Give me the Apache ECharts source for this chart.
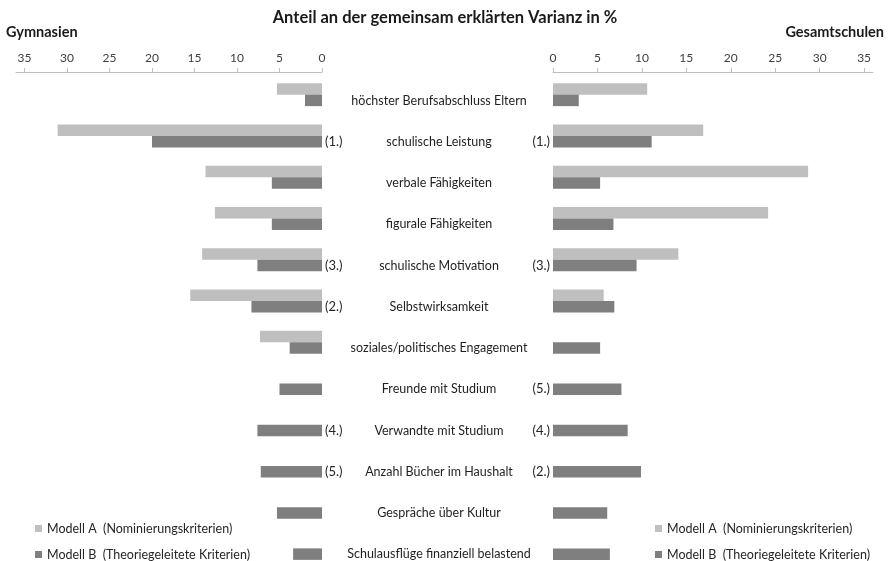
<!DOCTYPE html>
<html>
<head>
<meta charset="UTF-8">
<title>Anteil an der gemeinsam erklärten Varianz</title>
<script src="https://cdn.jsdelivr.net/npm/echarts@6/dist/echarts.min.js"></script>
<style>
  html, body { margin: 0; padding: 0; background: #fff; }
  #main { width: 890px; height: 561px; }
</style>
</head>
<body>
<div id="main"></div>
<script type="text/javascript">
    // Kategorien (von oben nach unten)
    var categories = [
        'höchster Berufsabschluss Eltern',
        'schulische Leistung',
        'verbale Fähigkeiten',
        'figurale Fähigkeiten',
        'schulische Motivation',
        'Selbstwirksamkeit',
        'soziales/politisches Engagement',
        'Freunde mit Studium',
        'Verwandte mit Studium',
        'Anzahl Bücher im Haushalt',
        'Gespräche über Kultur',
        'Schulausflüge finanziell belastend'
    ];
    // Gymnasien
    var gymA = [5.3, 31.1, 13.7, 12.6, 14.1, 15.5, 7.3, null, null, null, null, null];
    var gymB = [2.0, 20.0, 5.9, 5.9, 7.6, 8.3, 3.8, 5.0, 7.6, 7.2, 5.3, 3.4];
    var gymRank = ['', '(1.)', '', '', '(3.)', '(2.)', '', '', '(4.)', '(5.)', '', ''];
    // Gesamtschulen
    var gesA = [10.6, 16.9, 28.7, 24.2, 14.1, 5.7, null, null, null, null, null, null];
    var gesB = [2.9, 11.1, 5.3, 6.8, 9.4, 6.9, 5.3, 7.7, 8.4, 9.9, 6.1, 6.4];
    var gesRank = ['', '(1.)', '', '', '(3.)', '', '', '(5.)', '(4.)', '(2.)', '', ''];
    // Achsenbeschriftung
    var tickValues = [0, 5, 10, 15, 20, 25, 30, 35];

    var nameA = 'Modell A  (Nominierungskriterien)';
    var nameB = 'Modell B  (Theoriegeleitete Kriterien)';
    var colorA = '#bfbfbf';
    var colorB = '#7f7f7f';
    var font = 'Lato, "Open Sans", sans-serif';

    function valueAxis(gridIndex, inverse) {
        return {
            type: 'value',
            gridIndex: gridIndex,
            position: 'top',
            offset: 2,
            inverse: inverse,
            min: 0,
            max: 36,
            interval: 5,
            axisLine: { show: true, lineStyle: { color: '#bfbfbf', width: 1 } },
            axisTick: { show: true, length: 4, customValues: tickValues, lineStyle: { color: '#bfbfbf' } },
            axisLabel: { customValues: tickValues, margin: 8, color: '#404040', fontSize: 12, fontFamily: font },
            splitLine: { show: false }
        };
    }

    function catAxis(gridIndex, showLabel) {
        return {
            type: 'category',
            gridIndex: gridIndex,
            inverse: true,
            data: categories,
            axisLine: { show: false },
            axisTick: { show: false },
            axisLabel: showLabel ? {
                show: true, interval: 0, align: 'center', margin: 0,
                color: '#1f1f1f', fontSize: 12.5, fontFamily: font
            } : { show: false }
        };
    }

    function rankLabel(ranks, pos) {
        return {
            show: true,
            position: pos,
            distance: 3,
            color: '#262626',
            fontSize: 13,
            fontFamily: font,
            formatter: function (p) { return ranks[p.dataIndex]; }
        };
    }

    function legendItem(x, y, name) {
        return {
            orient: 'vertical', left: x, top: y,
            itemWidth: 7, itemHeight: 7, icon: 'rect', itemGap: 5,
            textStyle: { fontSize: 12.5, color: '#262626', fontFamily: font },
            data: [name]
        };
    }

    var myChart = echarts.init(document.getElementById('main'));
    var option = {
        animation: false,
        title: [
            { text: 'Anteil an der gemeinsam erklärten Varianz in %', left: 'center', top: 4,
              textStyle: { fontSize: 16.5, fontWeight: 'bold', color: '#1a1a1a', fontFamily: font } },
            { text: 'Gymnasien', left: 1, top: 20,
              textStyle: { fontSize: 14.5, fontWeight: 'bold', color: '#1a1a1a', fontFamily: font } },
            { text: 'Gesamtschulen', right: 1, top: 20,
              textStyle: { fontSize: 14.5, fontWeight: 'bold', color: '#1a1a1a', fontFamily: font } }
        ],
        legend: [
            legendItem(30, 517, nameA),
            legendItem(30, 543, nameB),
            legendItem(650, 517, nameA),
            legendItem(650, 543, nameB)
        ],
        grid: [
            { left: 16, width: 306, top: 74, height: 495, outerBoundsMode: 'none' },
            { left: 553, width: 320, top: 74, height: 495, outerBoundsMode: 'none' },
            { left: 439, width: 1, top: 80, height: 495, outerBoundsMode: 'none' }
        ],
        xAxis: [
            valueAxis(0, true),
            valueAxis(1, false),
            { type: 'value', gridIndex: 2, show: false }
        ],
        yAxis: [
            catAxis(0, false),
            catAxis(1, false),
            catAxis(2, true)
        ],
        series: [
            { name: nameA, type: 'bar', xAxisIndex: 0, yAxisIndex: 0, data: gymA,
              barWidth: 11.5, barGap: '0%', itemStyle: { color: colorA } },
            { name: nameB, type: 'bar', xAxisIndex: 0, yAxisIndex: 0, data: gymB,
              barWidth: 11.5, barGap: '0%', itemStyle: { color: colorB },
              label: rankLabel(gymRank, 'right') },
            { name: nameA, type: 'bar', xAxisIndex: 1, yAxisIndex: 1, data: gesA,
              barWidth: 11.5, barGap: '0%', itemStyle: { color: colorA } },
            { name: nameB, type: 'bar', xAxisIndex: 1, yAxisIndex: 1, data: gesB,
              barWidth: 11.5, barGap: '0%', itemStyle: { color: colorB },
              label: rankLabel(gesRank, 'left') }
        ]
    };
    myChart.setOption(option);
</script>
</body>
</html>
